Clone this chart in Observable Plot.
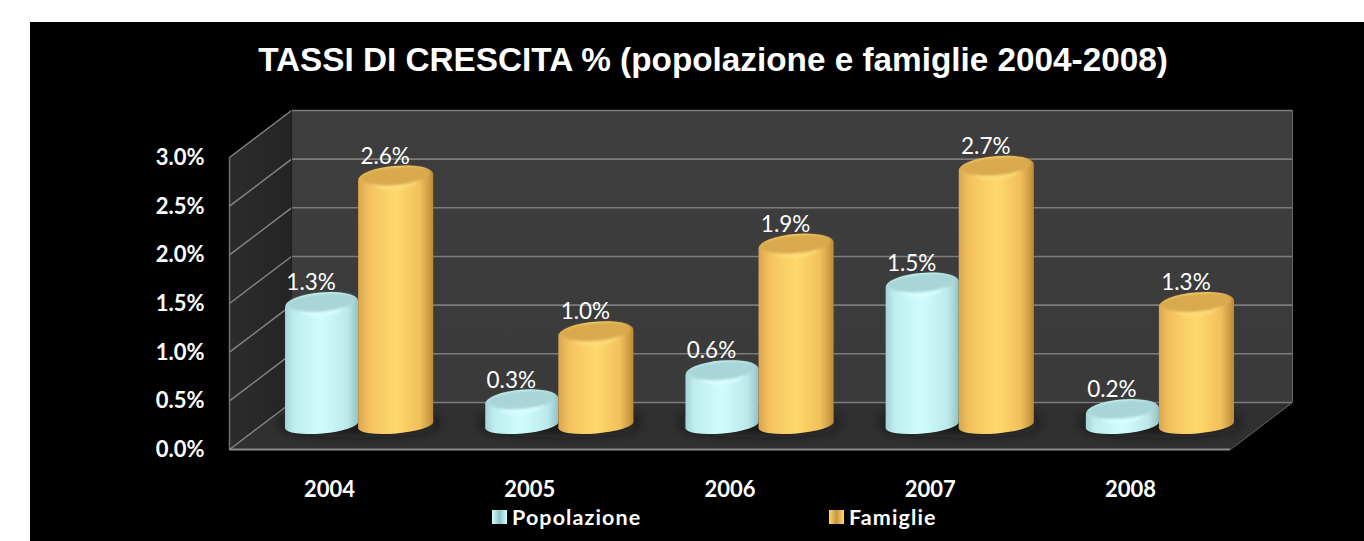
<!DOCTYPE html>
<html lang="it">
<head>
<meta charset="utf-8">
<script src="https://cdn.jsdelivr.net/npm/d3@7"></script>
<script src="https://cdn.jsdelivr.net/npm/@observablehq/plot@0.6"></script>
<style>
  html, body { margin: 0; background: #fff; }
  #panel { position: absolute; left: 30px; top: 22px; width: 1334px; height: 519px; background: #000; overflow: hidden; }
  #title { position: absolute; left: 0; top: 19px; width: 1366px; margin: 0; text-align: center; color: #fff;
           font: bold 33.3px/38px "Liberation Sans", sans-serif; white-space: nowrap; }
  #chart { position: absolute; left: 0; top: 78px; }
  #legend { position: absolute; top: 480px; left: 0; width: 100%; height: 30px; color: #fff;
            font: bold 21.5px Lato, sans-serif; letter-spacing: 1.1px; }
  .key { position: absolute; top: 2px; display: flex; align-items: center; gap: 5px; line-height: 26px; }
  .swatch { width: 15px; height: 14px; display: inline-block; }
</style>
</head>
<body>
<svg width="0" height="0" style="position:absolute">
  <defs>
    <linearGradient id="bodyPop" x1="0" x2="1" y1="0" y2="0">
      <stop offset="0" stop-color="#a5d3d5"/><stop offset=".12" stop-color="#bfeeef"/>
      <stop offset=".5" stop-color="#cffdfd"/><stop offset=".85" stop-color="#bce9ea"/>
      <stop offset="1" stop-color="#95c2c4"/>
    </linearGradient>
    <linearGradient id="bodyFam" x1="0" x2="1" y1="0" y2="0">
      <stop offset="0" stop-color="#d9a650"/><stop offset=".15" stop-color="#f4c25f"/>
      <stop offset=".5" stop-color="#ffd96c"/><stop offset=".82" stop-color="#f2c05c"/>
      <stop offset="1" stop-color="#bd8b38"/>
    </linearGradient>
    <linearGradient id="backWall" x1="0" x2="0" y1="0" y2="1">
      <stop offset="0" stop-color="#3e3e3e"/><stop offset="1" stop-color="#3a3a3a"/>
    </linearGradient>
    <linearGradient id="sideWall" x1="0" x2="1" y1="0" y2="0">
      <stop offset="0" stop-color="#2c2c2c"/><stop offset="1" stop-color="#242424"/>
    </linearGradient>
    <filter id="soft" x="-30%" y="-30%" width="160%" height="160%"><feGaussianBlur stdDeviation="1"/></filter>
    <filter id="softer" x="-30%" y="-100%" width="160%" height="300%"><feGaussianBlur stdDeviation="7"/></filter>
  </defs>
</svg>
<div id="panel">
  <h1 id="title">TASSI DI CRESCITA % (popolazione e famiglie 2004-2008)</h1>
  <div id="chart"></div>
  <div id="legend">
    <span class="key" style="left:462px"><i class="swatch" style="background:linear-gradient(90deg,#d4ffff,#8fc4c6,#d4ffff)"></i>Popolazione</span>
    <span class="key" style="left:799px"><i class="swatch" style="background:linear-gradient(90deg,#ffd96c,#c8963c,#ffd96c)"></i>Famiglie</span>
  </div>
</div>
<script>
const years = ["2004", "2005", "2006", "2007", "2008"];
const popolazione = [1.3, 0.3, 0.6, 1.5, 0.2];
const famiglie = [2.6, 1.0, 1.9, 2.7, 1.3];
const yTicks = [0, 0.5, 1, 1.5, 2, 2.5, 3];

// Oblique depth of the chart box, in data units of the x and y scales.
const depthX = 0.31;
const depthY = 0.483;
const yMax = 3;
const nYears = years.length;

// Horizontal placement of a cylinder pair within one year's slot.
const pairOffset = 0.645;
const popWidth = 0.365;
const famWidth = 0.375;

const pct = v => v.toFixed(1) + "%";

const rows = years.flatMap((year, i) => [
  {year, i, serie: "Popolazione", value: popolazione[i], x1: i + pairOffset - popWidth, x2: i + pairOffset,
   body: "url(#bodyPop)", cap: "#a8d5d7", glow: "#e0ffff"},
  {year, i, serie: "Famiglie", value: famiglie[i], x1: i + pairOffset, x2: i + pairOffset + famWidth,
   body: "url(#bodyFam)", cap: "#d9aa4e", glow: "#ffe080"}
]);

// A cylinder standing on the floor: body, soft highlight under the rim, and top face.
function cylinders(index, {x, y}) {
  const g = d3.create("svg:g");
  const lift = 19, tilt = -5, slope = Math.tan(5 * Math.PI / 180);
  for (const k of index) {
    const d = rows[k];
    const L = x(d.x1), R = x(d.x2), cx = (L + R) / 2, rx = (R - L) / 2;
    const yT = y(d.value) - lift, yB = y(0) - lift - 5, t = rx * slope, ry = 11;
    g.append("path")
      .attr("fill", d.body)
      .attr("d", `M${L},${yT + t}L${L},${yB + t}A${rx},8.5,${tilt},0,0,${R},${yB - t}L${R},${yT - t}A${rx},${ry},${tilt},0,0,${L},${yT + t}Z`);
    g.append("ellipse")
      .attr("cx", cx).attr("cy", yT + 5).attr("rx", rx * 0.6).attr("ry", 8)
      .attr("transform", `rotate(${tilt} ${cx} ${yT + 5})`)
      .attr("fill", d.glow).attr("opacity", 0.6).attr("filter", "url(#soft)");
    g.append("ellipse")
      .attr("cx", cx).attr("cy", yT - 1).attr("rx", rx - 3).attr("ry", ry - 2)
      .attr("transform", `rotate(${tilt} ${cx} ${yT - 1})`)
      .attr("fill", d.cap).attr("filter", "url(#soft)");
  }
  return g.node();
}

// Dark pool on the floor beneath each pair of cylinders.
function floorShadows(index, {x, y}) {
  const g = d3.create("svg:g").attr("filter", "url(#softer)");
  for (const k of index) {
    const x1 = x(k + pairOffset - popWidth), x2 = x(k + pairOffset + famWidth);
    g.append("ellipse")
      .attr("cx", (x1 + x2) / 2).attr("cy", y(0) - 26)
      .attr("rx", (x2 - x1) / 2 + 6).attr("ry", 10)
      .attr("fill", "#141414");
  }
  return g.node();
}

const chart = Plot.plot({
  width: 1334,
  height: 400,
  marginLeft: 199,
  marginRight: 134,
  marginTop: 57,
  marginBottom: 51,
  x: {domain: [0, nYears], axis: null},
  y: {domain: [0, yMax], axis: null},
  style: {background: "transparent", color: "#fff", overflow: "visible"},
  marks: [
    // chart box: back wall, side wall, floor
    Plot.rect([0], {x1: depthX, x2: nYears + depthX, y1: depthY, y2: yMax + depthY, fill: "url(#backWall)"}),
    Plot.line([[0, 0], [depthX, depthY], [depthX, yMax + depthY], [0, yMax]],
      {x: d => d[0], y: d => d[1], fill: "url(#sideWall)", stroke: "none"}),
    Plot.line([[0, 0], [nYears, 0], [nYears + depthX, depthY], [depthX, depthY]],
      {x: d => d[0], y: d => d[1], fill: "#303030", stroke: "none"}),
    // gridlines on both walls
    Plot.ruleY(yTicks, {x1: depthX, x2: nYears + depthX, y: v => v + depthY, stroke: "#7c7c7c", strokeWidth: 1.6}),
    Plot.link(yTicks, {x1: 0, y1: v => v, x2: depthX, y2: v => v + depthY, stroke: "#858585", strokeWidth: 1.4}),
    // box edges
    Plot.ruleX([0], {y1: 0, y2: yMax, stroke: "#707070", strokeWidth: 1.5}),
    Plot.ruleX([nYears + depthX], {y1: depthY, y2: yMax + depthY, stroke: "#6a6a6a", strokeWidth: 1}),
    Plot.ruleX([depthX], {y1: depthY, y2: yMax + depthY, stroke: "#1e1e1e", strokeWidth: 1}),
    Plot.ruleY([0], {x1: 0, x2: nYears, stroke: "#8a8a8a", strokeWidth: 2}),
    Plot.link([0], {x1: nYears, y1: 0, x2: nYears + depthX, y2: depthY, stroke: "#666", strokeWidth: 1}),
    // cylinders
    Plot.rect(years.map((_, i) => i), {x1: i => i, x2: i => i + 1, y1: 0, y2: yMax, render: floorShadows}),
    Plot.rect(rows, {x1: "x1", x2: "x2", y1: 0, y2: "value", render: cylinders}),
    // value labels above the cylinders
    Plot.text(rows, {
      x: d => (d.x1 + d.x2) / 2 - 0.055, y: "value", dy: -40, text: d => pct(d.value),
      fill: "#fff", fontSize: 22.5, fontWeight: 400, fontFamily: "Lato, sans-serif"
    }),
    // axes
    Plot.axisY(yTicks, {
      tickSize: 0, tickPadding: 25, tickFormat: pct, fill: "#fff", label: null,
      fontSize: 22, fontWeight: "bold", fontFamily: "Lato, sans-serif", letterSpacing: 0.5, dy: 0.5
    }),
    Plot.axisX(years.map((_, i) => i + 0.5), {
      tickSize: 0, tickPadding: 32, tickFormat: v => years[v - 0.5], fill: "#fff", label: null,
      fontSize: 22, fontWeight: "bold", fontFamily: "Lato, sans-serif", letterSpacing: 0.5
    })
  ]
});
document.getElementById("chart").append(chart);
</script>
</body>
</html>
